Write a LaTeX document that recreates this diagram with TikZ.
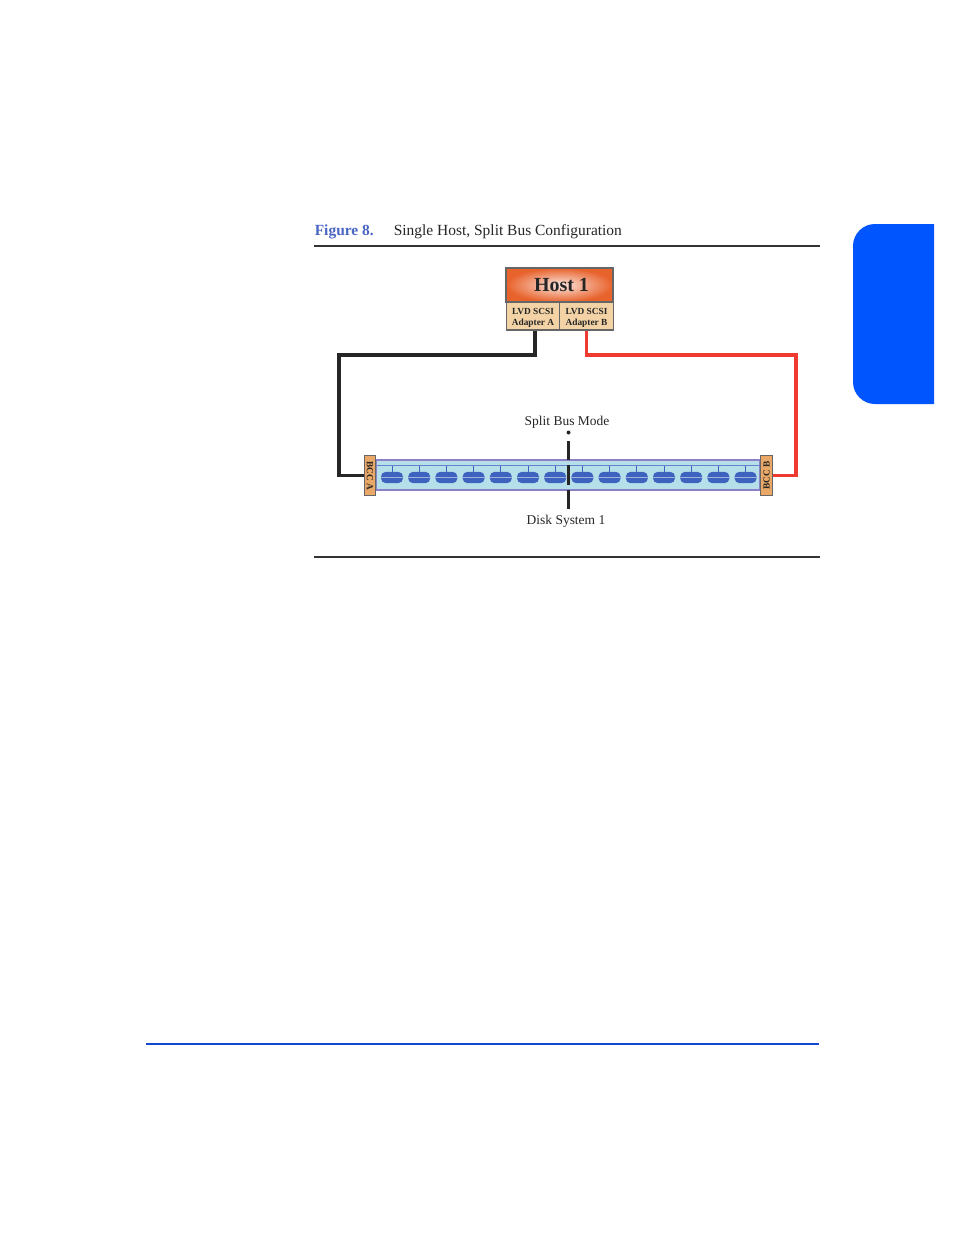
\documentclass[tikz,border=0pt]{standalone}
\usepackage{fontspec}
\setmainfont{Liberation Serif}
\usetikzlibrary{shadings}

\definecolor{tabblue}{HTML}{0055FF}
\definecolor{footblue}{HTML}{1546CF}
\definecolor{figblue}{HTML}{4A66C4}
\definecolor{hostorange}{HTML}{E8622C}
\definecolor{adaptertan}{HTML}{F3D3A6}
\definecolor{bcctan}{HTML}{E9A867}
\definecolor{encfill}{HTML}{B5E0EA}
\definecolor{encedge}{HTML}{6F62B8}
\definecolor{diskblue}{HTML}{3E63BE}
\definecolor{cablered}{HTML}{EE3A30}

\tikzset{
	hostbox/.style={draw=black!60,line width=0.9pt,inner sep=0pt,minimum width=80.2pt,minimum height=25.5pt,
		inner color=white!85!hostorange,outer color=hostorange,text=black!85,font=\bfseries\fontsize{15}{16}\selectfont},
	adapterbox/.style={draw=black!60,line width=0.9pt,fill=adaptertan,inner sep=0pt,minimum width=40.1pt,minimum height=21pt,
		align=center,text=black!85,font=\bfseries\fontsize{7}{8}\selectfont},
	bccbox/.style={draw=black!60,line width=0.7pt,fill=bcctan,inner sep=0pt,minimum width=8.5pt,minimum height=29.5pt},
	bcclabel/.style={inner sep=0pt,text=black!85,font=\bfseries\fontsize{7}{8}\selectfont},
	encbox/.style={draw=encedge!80,line width=0.8pt,fill=encfill,inner sep=0pt,minimum width=288pt,minimum height=22.5pt},
	diskbox/.style={fill=diskblue,rounded corners=3.6pt,inner sep=0pt,minimum width=16.5pt,minimum height=8.5pt},
	cable/.style={line width=2.5pt,line join=miter},
	caption/.style={inner sep=0pt,font=\fontsize{11.6}{13}\selectfont},
	label/.style={inner sep=0pt,text=black!85,font=\fontsize{10.1}{11}\selectfont}
}

\begin{document}
\begin{tikzpicture}[x=0.75pt,y=0.75pt]
	\useasboundingbox (0,0) rectangle (954,-1235);
	% side tab and rules
	\fill [tabblue] (934,-224) -- (875,-224) arc (90:180:22) -- (853,-382) arc (180:270:22) -- (934,-404) -- cycle;
	\draw [black!80,line width=1.5pt] (314,-246) -- (820,-246);
	\draw [black!80,line width=1.5pt] (314,-557) -- (820,-557);
	\draw [footblue,line width=1.3pt] (146,-1044) -- (819,-1044);
	\node [caption,anchor=base west,text=figblue] (figlabel) at (314.5,-235) {\bfseries Figure 8.};
	\node [caption,anchor=base west,text=black!85] (figtitle) at (393.5,-235) {Single Host, Split Bus Configuration};
	% host
	\node [hostbox] (host) at (559.5,-285) {\hspace*{3pt}Host 1};
	\node [adapterbox,text height=15.2pt] (adaptA) at (533,-316) {LVD SCSI\\Adapter A};
	\node [adapterbox,text height=15.2pt] (adaptB) at (586.5,-316) {LVD SCSI\\Adapter B};
	% disk system
	\node [encbox] (encl) at (568,-475) {};
	\coordinate (busL) at (377,-465.5);
	\coordinate (busR) at (760,-465.5);
	\draw [diskblue!80,line width=1.1pt] (busL) -- (busR);
	\foreach \i in {0,...,13} {
		\node [diskbox] (disk\i) at (392+27.2*\i,-477.5) {};
		\draw [diskblue,line width=0.7pt] (disk\i.north) -- (disk\i.north |- busL);
		\draw [white!50!diskblue,line width=0.9pt] (disk\i.west) -- (disk\i.east);
	}
	\node [bccbox] (bccA) at (370,-475.5) {};
	\node [bcclabel,rotate=-90] (bccAtext) at (370,-475.5) {BCC A};
	\node [bccbox] (bccB) at (766.5,-475.5) {};
	\node [bcclabel,rotate=90] (bccBtext) at (766.5,-475.5) {BCC B};
	% cables
	\coordinate (cornerA) at (339,-355);
	\coordinate (cornerB) at (796,-355);
	\draw [cable,black!85] ([xshift=1.5pt]adaptA.south) |- (cornerA) |- (bccA.west);
	\draw [cable,cablered] (adaptB.south) |- (cornerB) |- (bccB.east);
	% split mark
	\node [label] (split) at (567,-422) {Split Bus Mode};
	\node [circle,fill=black!85,inner sep=0pt,minimum size=3pt] (splitdot) at (568.5,-432.5) {};
	\coordinate (sepA) at (568.5,-441);
	\coordinate (sepB) at (568.5,-460);
	\coordinate (sepC) at (568.5,-465);
	\coordinate (sepD) at (568.5,-485);
	\coordinate (sepE) at (568.5,-490);
	\coordinate (sepF) at (568.5,-509);
	\draw [black!85,line width=2.4pt] (sepA) -- (sepB);
	\draw [black!85,line width=2.4pt] (sepC) -- (sepD);
	\draw [black!85,line width=2.4pt] (sepE) -- (sepF);
	\node [label] (disksys) at (566,-521) {Disk System 1};
\end{tikzpicture}
\end{document}
